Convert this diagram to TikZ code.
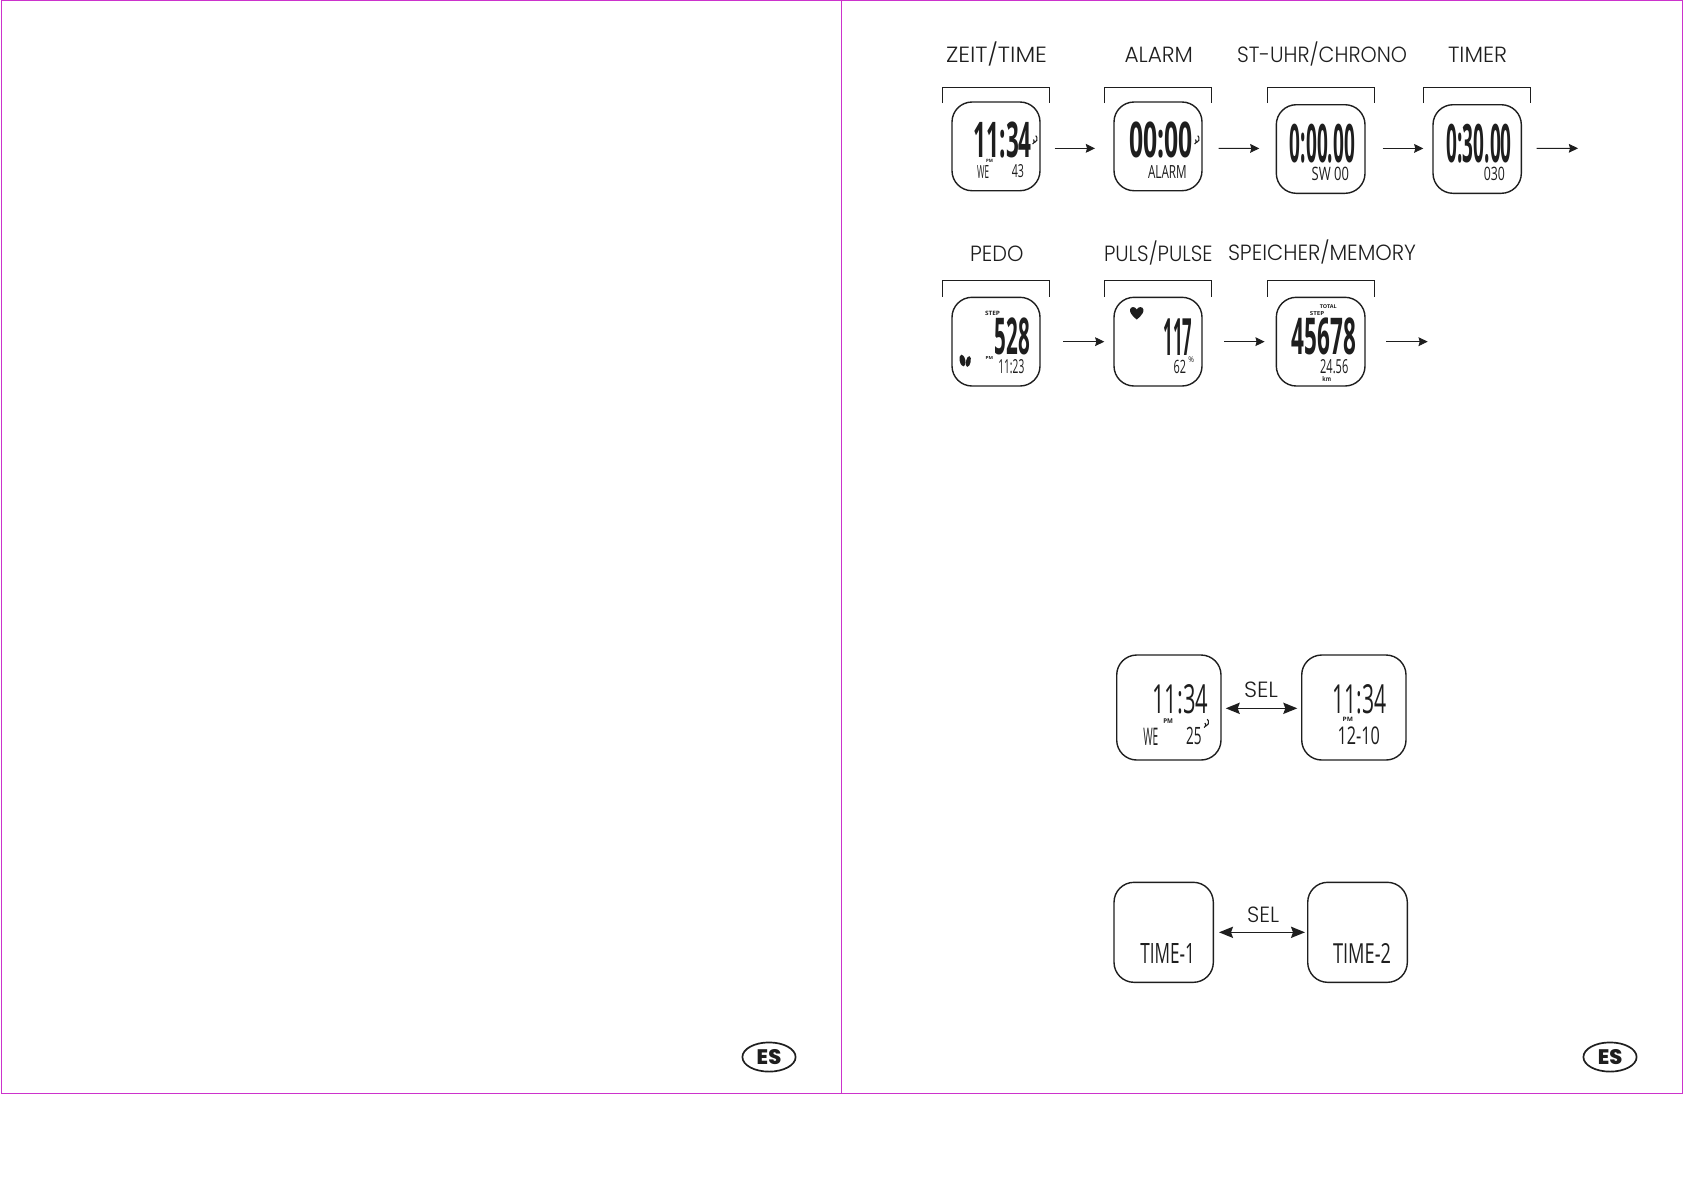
\documentclass[tikz,border=0pt]{standalone}
\usepackage{fontspec}
\usepackage{graphicx}
\usetikzlibrary{arrows.meta,shapes.geometric}
\setmainfont{Open Sans}
\newfontfamily\lblfont{Poppins Light}
\newfontfamily\esfont{Poppins ExtraBold}
\definecolor{ink}{HTML}{1E1E1E}
\definecolor{pagemark}{HTML}{CC33CC}
\tikzset{
  lcdbox/.style={draw=ink,line width=0.7pt,rounded corners=10pt,inner sep=0pt},
  bracketline/.style={draw=ink,line width=0.5pt},
  flow/.style={draw=ink,line width=0.45pt,-{Stealth[length=4.6pt,width=4.4pt,inset=0.6pt]}},
  flowboth/.style={draw=ink,line width=0.8pt,{Stealth[length=7pt,width=5.6pt,inset=1pt]}-{Stealth[length=7pt,width=5.6pt,inset=1pt]}},
  heading/.style={inner sep=0pt,text=ink,font=\lblfont\fontsize{11}{13}\selectfont},
  lcdtext/.style={inner sep=0pt,text=ink},
  esoval/.style={draw=ink,line width=0.85pt,ellipse,minimum width=26.6pt,minimum height=14.6pt,inner sep=0pt,text=ink,font=\esfont\fontsize{10.5}{12}\selectfont},
  iconline/.style={draw=ink,line width=0.55pt},
}
% name, x1, x2, y1, y2 in reference pixels
\newcommand\lcdframe[5]{\node[lcdbox,minimum width={(#3-#2)*0.5pt},minimum height={(#5-#4)*0.5pt}] (#1) at ({(#2+#3)/2},{(#4+#5)/2}) {};}
% name, x1, x2, y1, y2, weight, text: the text is fitted to the box
\newcommand\lcdread[7]{\pgfmathsetmacro\lcdw{(#3-#2)*0.5}\pgfmathsetmacro\lcdh{(#5-#4)*0.5}%
  \node[lcdtext] (#1) at ({(#2+#3)/2},{(#4+#5)/2}) {\resizebox{\lcdw pt}{\lcdh pt}{#6 #7}};}
% name, x1, x2, y, text: heading fitted to a width, natural height
\newcommand\headtext[5]{\pgfmathsetmacro\lcdw{(#3-#2)*0.5}%
  \node[heading] (#1) at ({(#2+#3)/2},#4) {\resizebox{\lcdw pt}{\height}{#5}};}
\newcommand\topbracket[4]{\draw[bracketline] (#1,#4) -- (#1,#3) -- (#2,#3) -- (#2,#4);}
\newcommand\waves[2]{\draw[iconline] (#1,#2) arc[start angle=70,end angle=-50,radius=2.6]
  (#1+2,#2-1.5) arc[start angle=70,end angle=-50,radius=4];}
\begin{document}
\begin{tikzpicture}[x=0.5pt,y=-0.5pt]
\useasboundingbox (0,0) rectangle (1684,1191);
% page frames
\draw[pagemark,line width=0.45pt] (1,0.6) rectangle (1682.5,1093);
\draw[pagemark,line width=0.45pt] (841,0.6) -- (841,1093);
% ---- row 1
\headtext{h1}{946}{1047}{54}{ZEIT/TIME}
\headtext{h2}{1124.5}{1193}{55}{ALARM}
\headtext{h3}{1237}{1407}{54}{ST-UHR/CHRONO}
\headtext{h4}{1448}{1507}{55}{TIMER}
\topbracket{942.3}{1049.3}{87.3}{103}
\topbracket{1104.3}{1211.7}{87.3}{103}
\topbracket{1267.3}{1374.7}{87.3}{103}
\topbracket{1423.3}{1530.7}{87.3}{103}
\lcdframe{d1}{952}{1040}{102}{190.7}
\lcdframe{d2}{1114}{1202}{102}{190.7}
\lcdframe{d3}{1276.3}{1365}{104.7}{193.3}
\lcdframe{d4}{1433}{1521.3}{104.7}{193.3}
\lcdread{t1a}{968}{1031.7}{122.7}{158.3}{\bfseries}{11:34}
\lcdread{t1b}{975}{989}{165}{178}{}{WE}
\lcdread{t1c}{1009}{1024}{165}{178}{}{43}
\lcdread{t1d}{985}{993}{158.8}{162}{\bfseries}{PM}
\waves{1032.5}{144}
\lcdread{t2a}{1122.7}{1192.7}{122.7}{158.3}{\bfseries}{00:00}
\lcdread{t2b}{1145}{1186.7}{165}{178}{}{ALARM}
\waves{1194.5}{144}
\lcdread{t3a}{1285}{1355}{124.3}{162.7}{\bfseries}{0:00.00}
\lcdread{t3b}{1308.3}{1349}{167.3}{180.7}{}{SW 00}
\lcdread{t4a}{1441.7}{1511.7}{124.3}{162.7}{\bfseries}{0:30.00}
\lcdread{t4b}{1480.7}{1505}{167.3}{180.7}{}{030}
\draw[flow] ([shift={(14,2)}]d1.east) -- ([shift={(-18.3,2)}]d2.west);
\draw[flow] ([shift={(16,2)}]d2.east) -- ([shift={(-16.3,-0.6)}]d3.west);
\draw[flow] ([shift={(17,-0.6)}]d3.east) -- ([shift={(-9,-0.6)}]d4.west);
\coordinate (e1) at (1578,148.3);
\draw[flow] ([shift={(14.7,-0.7)}]d4.east) -- (e1);
% ---- row 2
\headtext{h5}{970}{1023.5}{253.3}{PEDO}
\headtext{h6}{1104}{1212.5}{253}{PULS/PULSE}
\headtext{h7}{1228}{1416}{252}{SPEICHER/MEMORY}
\topbracket{942.3}{1049.3}{280.3}{296.7}
\topbracket{1104.3}{1211.7}{280.3}{296.7}
\topbracket{1267.3}{1374.7}{280.3}{296.7}
\lcdframe{d5}{952}{1040}{297.3}{386}
\lcdframe{d6}{1114}{1202}{297.3}{386}
\lcdframe{d7}{1276.3}{1365}{297.3}{386}
\lcdread{t5a}{983.3}{1000}{311}{315.3}{\bfseries}{STEP}
\lcdread{t5b}{989.3}{1030}{318.3}{355}{\bfseries}{528}
\lcdread{t5c}{984.3}{993}{356.5}{359.5}{\bfseries}{PM}
\lcdread{t5d}{995.7}{1024.3}{360}{374}{}{11:23}
\fill[ink,rotate around={12:(962.5,360.5)}] (962.5,360.5) ellipse[x radius=2.8,y radius=6];
\fill[ink,rotate around={-12:(968.3,361.5)}] (968.3,361.5) ellipse[x radius=2.4,y radius=5.5];
\fill[ink] (1136.7,319.5) .. controls (1131,315) and (1129.5,311.5) .. (1130,309.5) .. controls (1130.6,306.5) and (1135,306) .. (1136.7,309.5) .. controls (1138.4,306) and (1142.8,306.5) .. (1143.4,309.5) .. controls (1143.9,311.5) and (1142.4,315) .. (1136.7,319.5) -- cycle;
\lcdread{t6a}{1159.3}{1192.3}{318.3}{355}{\bfseries}{117}
\lcdread{t6b}{1170.7}{1186}{360.7}{374}{}{62}
\lcdread{t6c}{1186.5}{1194}{356.7}{362.5}{}{\%}
\lcdread{t7a}{1318.3}{1336.7}{304.7}{308.5}{\bfseries}{TOTAL}
\lcdread{t7b}{1308.3}{1324.3}{311.3}{315.3}{\bfseries}{STEP}
\lcdread{t7c}{1286}{1356}{318.3}{355}{\bfseries}{45678}
\lcdread{t7d}{1317.3}{1348.3}{360}{374}{}{24.56}
\lcdread{t7e}{1321}{1331}{376}{381}{\bfseries}{km}
\draw[flow] ([xshift=11.35pt]d5.east) -- ([xshift=-4.5pt]d6.west);
\draw[flow] ([xshift=10.65pt]d6.east) -- ([xshift=-5.5pt]d7.west);
\coordinate (e2) at (1427.7,341.65);
\draw[flow] ([xshift=10.35pt]d7.east) -- (e2);
% ---- SEL 1
\lcdframe{d8}{1116.7}{1221}{655}{760}
\lcdframe{d9}{1301.7}{1406}{655}{760}
\headtext{s1}{1244}{1278}{690}{SEL}
\draw[flowboth] ([shift={(4,0.8)}]d8.east) -- ([shift={(-3.7,0.8)}]d9.west);
\lcdread{t8a}{1146.7}{1208.3}{685}{714}{}{11:34}
\lcdread{t8b}{1161.7}{1173}{718.3}{723}{\bfseries}{PM}
\lcdread{t8c}{1140.7}{1158.3}{727.7}{745}{}{WE}
\lcdread{t8d}{1182.7}{1201.7}{727.7}{745}{}{25}
\waves{1204}{727.5}
\lcdread{t9a}{1327.3}{1386.7}{685}{714}{}{11:34}
\lcdread{t9b}{1341}{1353}{716.7}{721}{\bfseries}{PM}
\lcdread{t9c}{1333.3}{1380}{727.3}{745}{}{12-10}
% ---- SEL 2
\lcdframe{d10}{1114}{1213.3}{882.3}{982.3}
\lcdframe{d11}{1307.7}{1407.3}{882.3}{982.3}
\headtext{s2}{1247}{1279}{915}{SEL}
\draw[flowboth] ([xshift=2.5pt]d10.east) -- ([xshift=-1pt]d11.west);
\lcdread{t10}{1136}{1195}{943.3}{963.3}{}{TIME-1}
\lcdread{t11}{1328.3}{1391}{943.3}{963.3}{}{TIME-2}
% ---- page badges
\node[esoval] (es1) at (769,1057) {ES};
\node[esoval] (es2) at (1610,1057) {ES};
\end{tikzpicture}
\end{document}
